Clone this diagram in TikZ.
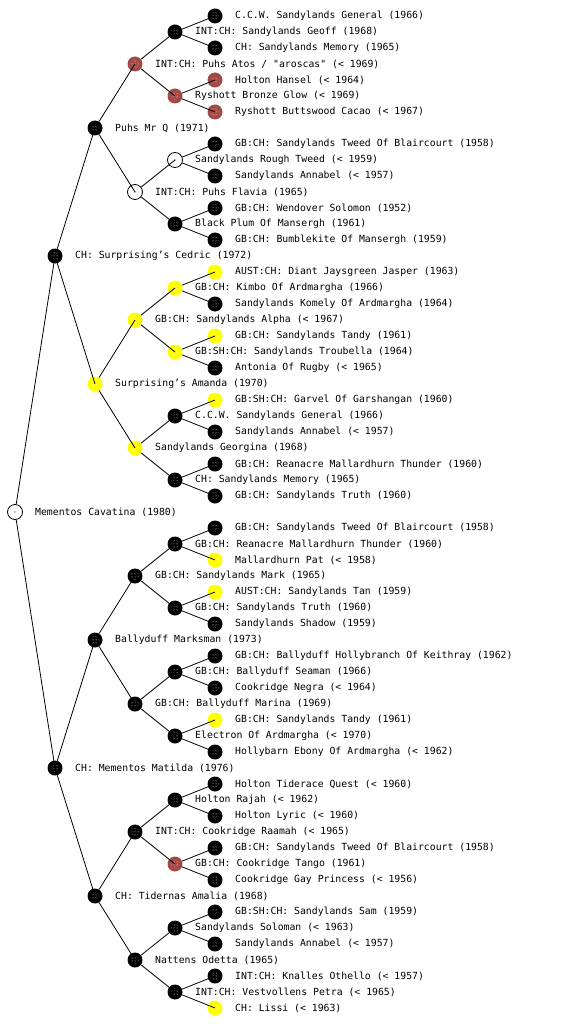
\documentclass[tikz,border=0pt]{standalone}
\usepackage{fontspec}
\setmonofont{DejaVu Sans Mono}
\usetikzlibrary{patterns}
\definecolor{pedred}{RGB}{165,72,72}
\definecolor{pedyel}{RGB}{255,255,0}
\tikzset{
  dog/.style={circle,minimum size=15pt,inner sep=0pt,
    path picture={\fill[pattern=dots,pattern color=white] (path picture bounding box.center) circle (4.2pt);}},
  blknode/.style={dog,fill=black},
  rednode/.style={dog,fill=pedred},
  yelnode/.style={dog,fill=pedyel},
  whtnode/.style={circle,minimum size=15pt,inner sep=0pt,draw=black,line width=0.8pt,fill=white,
    path picture={\fill[black] (path picture bounding box.center) circle (0.7pt);}},
  lbl/.style={anchor=west,inner sep=0pt,font=\ttfamily\fontsize{9.8}{11}\selectfont},
  edge/.style={line width=0.8pt,black}
}
\newcommand\pn[5]{\node[#4] (n#1) at (#2,#3) {}; \node[lbl] (t#1) at (#2+20,#3) {#5};}
\begin{document}
\begin{tikzpicture}[x=1pt,y=-1pt]
\useasboundingbox[fill=white] (0,0) rectangle (560,1024);
\pn{1}{15}{512}{whtnode}{Mementos Cavatina (1980)}
\pn{2}{55}{256}{blknode}{CH: Surprising’s Cedric (1972)}
\pn{3}{55}{768}{blknode}{CH: Mementos Matilda (1976)}
\pn{4}{95}{128}{blknode}{Puhs Mr Q (1971)}
\pn{5}{95}{384}{yelnode}{Surprising’s Amanda (1970)}
\pn{6}{95}{640}{blknode}{Ballyduff Marksman (1973)}
\pn{7}{95}{896}{blknode}{CH: Tidernas Amalia (1968)}
\pn{8}{135}{64}{rednode}{INT:CH: Puhs Atos / "aroscas" (< 1969)}
\pn{9}{135}{192}{whtnode}{INT:CH: Puhs Flavia (1965)}
\pn{10}{135}{320}{yelnode}{GB:CH: Sandylands Alpha (< 1967)}
\pn{11}{135}{448}{yelnode}{Sandylands Georgina (1968)}
\pn{12}{135}{576}{blknode}{GB:CH: Sandylands Mark (1965)}
\pn{13}{135}{704}{blknode}{GB:CH: Ballyduff Marina (1969)}
\pn{14}{135}{832}{blknode}{INT:CH: Cookridge Raamah (< 1965)}
\pn{15}{135}{960}{blknode}{Nattens Odetta (1965)}
\pn{16}{175}{32}{blknode}{INT:CH: Sandylands Geoff (1968)}
\pn{17}{175}{96}{rednode}{Ryshott Bronze Glow (< 1969)}
\pn{18}{175}{160}{whtnode}{Sandylands Rough Tweed (< 1959)}
\pn{19}{175}{224}{blknode}{Black Plum Of Mansergh (1961)}
\pn{20}{175}{288}{yelnode}{GB:CH: Kimbo Of Ardmargha (1966)}
\pn{21}{175}{352}{yelnode}{GB:SH:CH: Sandylands Troubella (1964)}
\pn{22}{175}{416}{blknode}{C.C.W. Sandylands General (1966)}
\pn{23}{175}{480}{blknode}{CH: Sandylands Memory (1965)}
\pn{24}{175}{544}{blknode}{GB:CH: Reanacre Mallardhurn Thunder (1960)}
\pn{25}{175}{608}{blknode}{GB:CH: Sandylands Truth (1960)}
\pn{26}{175}{672}{blknode}{GB:CH: Ballyduff Seaman (1966)}
\pn{27}{175}{736}{blknode}{Electron Of Ardmargha (< 1970)}
\pn{28}{175}{800}{blknode}{Holton Rajah (< 1962)}
\pn{29}{175}{864}{rednode}{GB:CH: Cookridge Tango (1961)}
\pn{30}{175}{928}{blknode}{Sandylands Soloman (< 1963)}
\pn{31}{175}{992}{blknode}{INT:CH: Vestvollens Petra (< 1965)}
\pn{32}{215}{16}{blknode}{C.C.W. Sandylands General (1966)}
\pn{33}{215}{48}{blknode}{CH: Sandylands Memory (1965)}
\pn{34}{215}{80}{rednode}{Holton Hansel (< 1964)}
\pn{35}{215}{112}{rednode}{Ryshott Buttswood Cacao (< 1967)}
\pn{36}{215}{144}{blknode}{GB:CH: Sandylands Tweed Of Blaircourt (1958)}
\pn{37}{215}{176}{blknode}{Sandylands Annabel (< 1957)}
\pn{38}{215}{208}{blknode}{GB:CH: Wendover Solomon (1952)}
\pn{39}{215}{240}{blknode}{GB:CH: Bumblekite Of Mansergh (1959)}
\pn{40}{215}{272}{yelnode}{AUST:CH: Diant Jaysgreen Jasper (1963)}
\pn{41}{215}{304}{blknode}{Sandylands Komely Of Ardmargha (1964)}
\pn{42}{215}{336}{yelnode}{GB:CH: Sandylands Tandy (1961)}
\pn{43}{215}{368}{blknode}{Antonia Of Rugby (< 1965)}
\pn{44}{215}{400}{yelnode}{GB:SH:CH: Garvel Of Garshangan (1960)}
\pn{45}{215}{432}{blknode}{Sandylands Annabel (< 1957)}
\pn{46}{215}{464}{blknode}{GB:CH: Reanacre Mallardhurn Thunder (1960)}
\pn{47}{215}{496}{blknode}{GB:CH: Sandylands Truth (1960)}
\pn{48}{215}{528}{blknode}{GB:CH: Sandylands Tweed Of Blaircourt (1958)}
\pn{49}{215}{560}{yelnode}{Mallardhurn Pat (< 1958)}
\pn{50}{215}{592}{yelnode}{AUST:CH: Sandylands Tan (1959)}
\pn{51}{215}{624}{blknode}{Sandylands Shadow (1959)}
\pn{52}{215}{656}{blknode}{GB:CH: Ballyduff Hollybranch Of Keithray (1962)}
\pn{53}{215}{688}{blknode}{Cookridge Negra (< 1964)}
\pn{54}{215}{720}{yelnode}{GB:CH: Sandylands Tandy (1961)}
\pn{55}{215}{752}{blknode}{Hollybarn Ebony Of Ardmargha (< 1962)}
\pn{56}{215}{784}{blknode}{Holton Tiderace Quest (< 1960)}
\pn{57}{215}{816}{blknode}{Holton Lyric (< 1960)}
\pn{58}{215}{848}{blknode}{GB:CH: Sandylands Tweed Of Blaircourt (1958)}
\pn{59}{215}{880}{blknode}{Cookridge Gay Princess (< 1956)}
\pn{60}{215}{912}{blknode}{GB:SH:CH: Sandylands Sam (1959)}
\pn{61}{215}{944}{blknode}{Sandylands Annabel (< 1957)}
\pn{62}{215}{976}{blknode}{INT:CH: Knalles Othello (< 1957)}
\pn{63}{215}{1008}{yelnode}{CH: Lissi (< 1963)}
\foreach \k in {1,...,31}{
  \pgfmathtruncatemacro\ca{2*\k}
  \pgfmathtruncatemacro\cb{2*\k+1}
  \draw[edge] (n\k) -- (n\ca.center);
  \draw[edge] (n\k) -- (n\cb.center);
}
\end{tikzpicture}
\end{document}
